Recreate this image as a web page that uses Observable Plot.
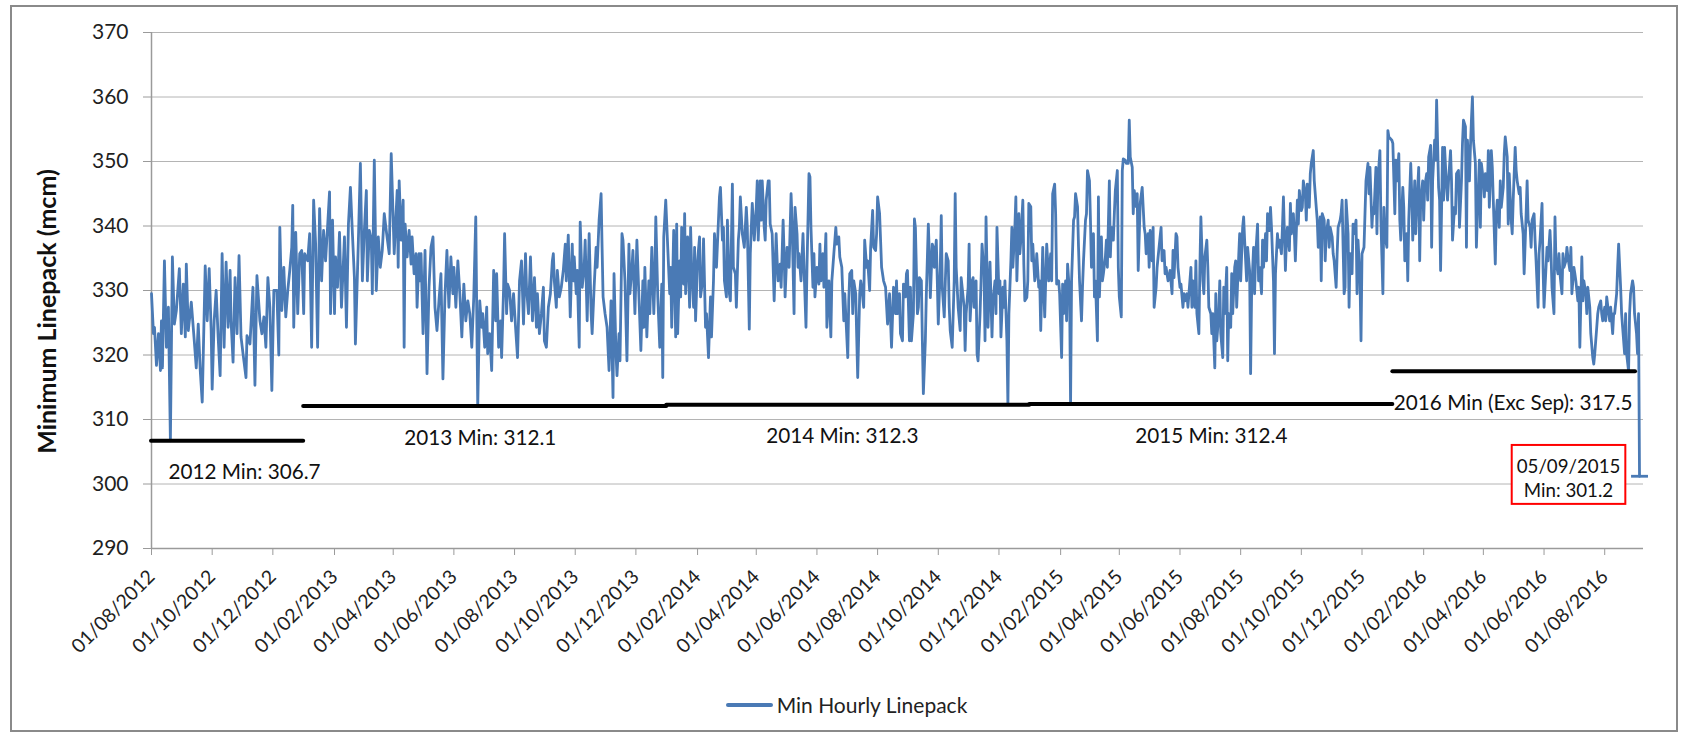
<!DOCTYPE html>
<html><head><meta charset="utf-8">
<script src="https://cdn.jsdelivr.net/npm/d3@7"></script>
<script src="https://cdn.jsdelivr.net/npm/@observablehq/plot@0.6"></script>
<style>
html,body{margin:0;padding:0;background:#fff;}
#wrap{position:relative;width:1681px;height:736px;overflow:hidden;font-family:Lato,sans-serif;background:#fff;}
#chart{position:absolute;left:0;top:0;}
#border{position:absolute;left:10px;top:5px;width:1668px;height:727px;border:2px solid #8a8a8a;box-sizing:border-box;pointer-events:none;}
#legend{position:absolute;left:0;top:692px;width:1681px;height:26px;line-height:26px;display:flex;justify-content:center;align-items:center;font-size:21px;color:#222;padding-left:12px;box-sizing:border-box;}
#legend .sw{display:inline-block;width:47px;height:4px;background:#4a7ab5;margin-right:4px;border-radius:2px;}
</style></head><body>
<div id="wrap"><div id="chart"></div><div id="legend"><span class="sw"></span><span id="legendText"></span></div><div id="border"></div></div>
<script>
// ---- data ----
const seriesName = "Min Hourly Linepack";
const yLabel = "Minimum Linepack (mcm)";
const startDate = "2012-08-01";
const xDomain = ["2012-08-01", "2016-09-09"];
const yDomain = [290, 370];
const yTicks = [290, 300, 310, 320, 330, 340, 350, 360, 370];
const tickDates = ["2012-08-01","2012-10-01","2012-12-01","2013-02-01","2013-04-01","2013-06-01","2013-08-01","2013-10-01","2013-12-01","2014-02-01","2014-04-01","2014-06-01","2014-08-01","2014-10-01","2014-12-01","2015-02-01","2015-04-01","2015-06-01","2015-08-01","2015-10-01","2015-12-01","2016-02-01","2016-04-01","2016-06-01","2016-08-01"];

// days since 2012-08-01
const dayOffset = [
0,2,3,5,7,9,10,11,13,15,17,19,21,23,25,28,30,32,34,35,37,40,43,45,47,49,51,54,56,58,60,61,63,65,67,69,71,73,75,77,79,80,82,84,86,88,90,92,95,96,99,102,104,106,109,111,113,115,117,119,121,123,126,128,129,131,133,135,137,139,141,142,143,145,147,149,151,153,154,157,159,161,163,165,167,169,171,173,175,177,179,180,182,184,185,187,189,191,194,196,198,200,202,204,205,208,210,212,214,216,217,219,221,222,224,226,228,230,232,234,236,239,241,
244,247,248,249,251,253,254,255,257,259,261,262,264,266,267,269,270,271,273,275,277,279,281,283,285,287,289,291,293,295,297,299,301,303,304,306,308,310,312,314,316,318,320,322,324,326,327,328,330,332,333,335,337,338,340,342,344,346,347,349,351,352,354,355,357,358,360,362,364,366,368,370,372,374,376,377,379,381,383,385,387,388,390,392,394,395,397,399,401,403,404,405,407,408,410,412,414,416,417,419,421,423,424,425,427,428,430,431,433,435,436,438,440,442,443,445,447,448,450,452,453,454,456,458,460,462,464,465,467,468,470,471,473,474,476,478,480,481,483,484,486,488,
492,494,495,496,498,500,501,503,505,506,507,509,511,513,514,515,517,519,521,522,523,525,527,528,529,531,532,533,535,536,537,539,541,542,543,545,546,547,549,551,552,554,555,557,558,560,562,563,565,566,568,570,571,572,574,575,576,578,579,581,582,584,585,587,588,590,591,592,594,596,598,599,601,602,604,606,608,609,610,612,613,614,616,617,618,620,621,622,624,626,628,629,630,632,633,635,636,637,639,641,643,644,646,647,649,650,651,653,655,656,658,659,661,662,663,665,666,667,669,671,672,673,675,676,678,679,681,683,684,686,688,689,691,692,694,696,697,700,701,702,704,705,706,708,709,710,712,713,714,716,717,719,720,722,723,725,726,728,729,730,732,733,734,736,738,740,742,
744,746,748,749,750,752,753,755,756,758,759,760,762,763,764,766,767,768,770,771,772,774,775,776,778,779,781,782,783,785,786,787,789,790,791,793,794,795,797,798,799,801,802,803,805,807,808,809,811,813,814,815,817,818,819,821,822,823,825,826,827,829,830,831,833,834,835,837,838,839,841,842,843,845,846,848,849,850,852,853,854,856,857,858,860,861,862,864,865,866,868,869,870,872,873,874,876,877,878,880,881,882,884,885,886,888,889,890,892,893,894,896,897,898,900,901,902,904,905,906,908,909,910,912,913,915,916,917,919,920,921,923,924,925,927,928,929,931,932,933,935,936,937,939,940,941,943,944,945,947,948,949,951,952,953,955,956,957,959,960,961,963,964,965,967,968,969,971,972,973,975,976,977,979,980,982,983,984,986,987,988,990,991,992,994,
996,998,999,1000,1002,1003,1004,1006,1007,1008,1010,1011,1012,1014,1015,1016,1018,1019,1020,1022,1023,1024,1026,1027,1028,1030,1031,1032,1034,1035,1037,1038,1039,1041,1042,1043,1045,1046,1047,1049,1050,1051,1053,1054,1055,1057,1058,1059,1061,1062,1063,1065,1066,1067,1069,1070,1071,1073,1074,1075,1077,1078,1079,1081,1082,1083,1085,1086,1087,1089,1090,1091,1093,1094,1095,1097,1098,1099,1101,1102,1104,1105,1106,1108,1109,1110,1112,1113,1114,1116,1117,1118,1120,1121,1122,1124,1125,1126,1128,1129,1130,1132,1133,1134,1136,1137,1138,1140,1141,1142,1144,1145,1146,1148,1149,1150,1152,1153,1154,1156,1157,1158,1160,1161,1162,1164,1165,1166,1168,1169,1171,1172,1173,1175,1176,1177,1179,1180,1181,1183,1184,1185,1187,1188,1189,1191,1192,1193,1195,1196,1197,1199,1200,1201,1203,1204,1205,1207,1208,1209,1211,1212,1213,1215,1216,1217,1219,1220,1221,1223,1224,1225,1227,1228,1229,1231,1232,1233,1235,1236,1238,1239,1240,1242,1243,1244,
1247,1248,1250,1251,1252,1254,1255,1256,1258,1259,1260,1262,1263,1264,1266,1267,1268,1270,1271,1272,1274,1275,1276,1278,1279,1280,1282,1283,1284,1286,1287,1288,1290,1291,1292,1294,1295,1296,1298,1299,1300,1302,1303,1304,1306,1307,1308,1310,1311,1312,1314,1315,1317,1318,1319,1321,1322,1323,1325,1326,1327,1328,1329,1331,1332,1333,1335,1336,1337,1339,1340,1341,1343,1344,1345,1347,1348,1349,1351,1352,1353,1355,1356,1357,1359,1360,1361,1363,1364,1365,1367,1368,1369,1371,1372,1373,1375,1376,1377,1379,1380,1382,1383,1384,1386,1387,1388,1390,1391,1392,1394,1395,1396,1398,1399,1400,1402,1403,1404,1406,1407,1408,1410,1411,1412,1414,1415,1416,1418,1419,1420,1422,1423,1424,1426,1427,1428,1430,1431,1432,1434,1435,1436,1438,1439,1440,1442,1443,1444,1446,1447,1449,1450,1451,1453,1454,1455,1457,1458,1459,1461,1462,1463,1465,1466,1467,1469,1470,1471,1473,1474,1475,1477,1478,1479,1481,1482,1483,1485,1486,1487,1489,1490,1491,1493,1494,1495,1496
];

const minLinepack = [
329.5,323.3,324.3,318.4,323.3,317.6,325.3,318,334.6,321.2,327.4,306.7,335.2,324.8,326.9,333.4,323.3,331,322.8,334.1,323.8,328.2,322.2,318,324.8,317.6,312.7,333.8,325.3,333.4,323.8,314.7,325.3,330,322.8,316.8,335.7,321.2,334.4,324.3,333.1,325.3,318.9,332,323.3,335.4,322.8,320.2,316.5,323,321.7,330.5,315.3,332.3,325.3,323.3,325.9,321.2,332,327.4,314.5,330,330,320,339.8,326.9,333.6,325.9,330,333.1,336.7,343.2,324.3,339,326.4,335.7,336.2,326.4,335.7,334.6,338.8,321.2,344,337.2,321.2,342.7,331.5,339.3,334.6,339.8,345.3,326.4,340.9,326.4,335.2,330.5,339,327.4,338.3,324.3,340.3,346,338.8,332,321.7,337.8,349.7,331.5,339.3,345.5,331.5,339.3,337.8,329.5,350.2,330,338.3,333.6,336.2,341.9,339.3,335.7,351.2,
335.7,345.5,333.6,347,337.8,344,321.2,340.3,335.2,339.3,334.1,338.3,332.6,335.7,327.4,335.7,331.5,335.7,323.3,336.2,317.1,330.5,336.7,338.3,327.4,323.8,328.4,332.6,316.3,329,336.2,327.4,335.2,329.5,333.6,327.4,334.6,329.5,322.8,331,325.3,328.4,326.4,321.2,329,341.4,326.4,312.1,328.4,324.3,326.4,321.2,327.4,320.2,323.3,317.6,333.1,325.3,332.6,321.2,325.3,319.6,330.5,338.8,326.4,331,330,325.3,329.5,324.3,319.6,331.5,334.6,324.8,335.7,330.5,326.4,335.2,325.3,332,324.3,329.5,323.3,326.4,330.5,322.2,321.2,327.4,329.5,334.6,335.7,331.5,327.4,333.1,329,330.5,333.1,337.2,331.5,338.6,325.9,337.2,331.5,335.2,329.5,333.1,321.2,340.6,330.5,333.6,337.8,325.3,338.8,326.4,323.3,330.5,336.7,333.6,340.9,345,336.7,329,326.4,324.3,317.6,328.4,313.4,332.6,320.2,316.8,323.3,319.1,338.8,337.8,331.5,319.1,337.2,329.5,333.6,336.2,326.4,337.8,
320.7,331.5,324.3,333.6,322.8,331.5,326.4,336.7,326.4,331.5,341.4,329,321.2,331,316.5,338.3,344,336.7,329.5,333.6,324.3,339.3,322.8,340.3,323.3,334.6,329,339.8,331,341.9,329.5,338.3,327.4,339.8,333.6,327.4,336.7,325.3,334.6,338.3,329,331.5,338,324.3,326.4,319.6,329,322.8,331.5,338.8,333.6,340.9,344.5,346,337.8,339.8,331.5,329,340.9,329.5,328.4,346.5,333.6,332.6,327.4,337.8,339.8,344.5,338.8,336.7,342.9,339.8,324,335.7,343.5,337.8,342.9,347,337.8,347,340.9,347,339.8,337.8,344,347,347,340.3,338.8,328.4,338.8,334.6,331.5,334.1,330.5,340.9,335.7,329,336.7,333.6,345,340.9,326.4,342.9,338.8,333.6,335.7,331.5,338.8,333.6,324.3,333.6,348.1,347.6,339.8,330.5,335.7,329,333.6,331,337.2,331.5,335.7,330.5,338.8,324.3,331.5,322.8,331.5,335.7,339.8,337.2,338.3,335.2,333.6,325.3,329.5,319.6,328.4,332.6,333.1,326.4,331.5,329.5,322.8,316.5,329.5,331.5,330.5,327.4,337.8,333.6,334.6,330,336.7,342.4,336.7,336.2,338.8,344.5,341.9,337.8,333.6,331.5,330.5,324.8,329.5,
321.2,330.5,326.4,331.5,326.4,329.5,323.3,322.2,331,329,332.6,333.1,322.2,330.5,322.2,326.4,341.1,339.8,326.4,327.4,332,331.5,322.2,314,322.2,329.5,340.3,335.7,328.9,337.2,336.7,333.6,337.8,331.5,324.8,333.6,341.6,330.5,325.9,331,335.7,334.6,327.4,323.8,321.2,331.5,345,333.6,327.4,323.8,332,330.5,327.4,320.7,326.4,330.5,337.2,325.3,331.5,332,327.4,331.5,320.2,319.1,326.4,331.5,337.2,332.6,322.2,341.4,324.3,329.5,334.4,322.8,328.4,331.5,326.4,339.8,329.5,331.5,322.8,330.5,327.4,331.5,322.2,312.3,326.4,334.6,339.8,333.6,339.8,344.5,331.5,341.9,335.7,337.8,344,334.1,328.4,328.9,331.5,343.5,343,334.6,337.2,331.5,332.6,335.7,330.5,331.5,323.8,336.7,330.5,325.9,337.2,334.6,331.5,335.7,331.5,345,346.5,341.9,331,331.5,329.5,319.6,331,326.4,331.5,325.3,334.1,329.5,312.4,331.5,340.9,341.4,345,343,336.7,331.5,325.3,330.5,334.6,340.9,341.9,348.6,347,340.9,333.6,338.8,329,331.5,322.2,344.5,329,338.3,331.5,332.6,335.2,337.8,333.6,347,335.2,339.8,337.8,341.9,345.5,348.6,333.6,329,325.9,348.6,350.4,350.2,349.7,349.7,356.4,350.7,349.1,341.9,345.5,343,345,333.1,343.5,
346,339.8,338.8,335.7,338.8,333.6,339.3,334.6,339.8,327.4,330.5,333.6,335.2,338.3,339.8,334.6,336.2,332.6,333.6,331.5,332,333.1,329.5,336.2,332,338.8,338.3,333.6,330.5,331,327.4,329.5,328.4,329.5,327.4,329.5,333.6,327.4,331.5,327.4,334.6,326.4,323.3,333.6,341.4,331.5,329.5,335.2,337.8,333.6,327.4,326.4,323.3,326.4,318,329.5,322.2,326.4,331.5,323.3,319.6,330.5,326.4,333.6,319.1,326.4,324.3,332.6,326.4,333.6,334.6,327.4,335.2,338.8,331.5,339.8,341.4,337.8,331.5,336.7,333.1,317.1,329.5,336.7,329.5,335.2,340.3,331.5,333.6,329.5,337.8,333.6,338.8,334.6,341.9,339.3,342.9,339.8,331.5,320.2,332.6,338.8,336.7,337.8,335.7,339.8,344.5,333.1,337.8,339.8,336.2,343.5,338.8,341.9,338.8,334.6,344,340.3,345.5,342.4,342.9,347,345,340.9,346.5,342.9,348.1,349.7,351.7,347,342.9,340.9,336.7,341.4,331.5,341.9,340.9,334.6,338.8,340.9,336.7,339.8,338.3,335.7,334.6,330.5,335.7,339.8,340.9,341.9,344,329.5,330.5,344,338.8,327.4,335.7,332.6,340.3,338.8,340.9,329.5,337.8,331.5,322.2,335.7,336.7,341.9,347,349.7,345,349.1,339.8,342.9,341.9,349.1,338.8,347,351.7,340.9,329.5,342.9,338.8,336.7,354.8,353.8,
353.3,352.8,341.9,350.2,347,351.2,340.9,337.8,346,342.9,334.6,338.8,331.5,340.9,349.7,345,337.8,347,338.8,342.9,349.1,334.6,344,347,340.9,346,348.1,344,350.7,352.5,336.7,347,353.3,350.2,359.5,346,344,333.1,352.2,344,352.2,346,344,347,351.7,347,337.8,342.9,341.9,348.1,348.6,339.8,347,352.8,356.4,355.4,336.7,353.3,347,352.2,356.4,360,353.3,349.7,336.7,341.9,350.2,339.8,349.7,347,344.5,348.1,345.5,351.7,342.9,351.7,349.1,344,334.1,341.9,344,339.8,347,342.9,346,351.2,353.8,350.7,340.3,348.1,340.9,338.8,344,352.2,348.6,347,345,346,341.9,338.8,332.6,341.9,347,340.9,339.8,336.7,340.9,341.9,337.8,334.6,327.4,335.7,337.8,343.5,333.6,327.4,333.6,336.7,334.6,339.3,335.7,330.5,326.4,341.4,334.6,332.6,335.7,332.6,329.5,335.7,333.6,334.6,336.7,335.2,333.1,336.7,329.5,333.6,332.6,331.5,328.4,330.5,321.2,335.2,328.4,331.5,329.5,326.4,330.5,327.4,323.3,319.6,318.6,320.2,324.3,326.4,327.4,328.4,326.4,325.3,327.4,325.3,329,326.4,325.3,327.4,323.3,326.4,326.4,329.5,333.6,337.2,330.5,326.4,324.3,320.2,326.4,320.2,317.5,326.4,329.5,331.5,330.5,326.4,323.3,320.2,326.4,301.2
];

// yearly minimum lines and their labels
const yearLabels = ["2012 Min: 306.7", "2013 Min: 312.1", "2014 Min: 312.3", "2015 Min: 312.4", "2016 Min (Exc Sep): 317.5"];
const yearMinValues = [306.7, 312.1, 312.3, 312.4, 317.5];
const yearMinStart = ["2012-08-01", "2013-01-01", "2014-01-01", "2015-01-01", "2016-01-01"];
const yearMinEnd = ["2013-01-01", "2014-01-01", "2015-01-01", "2016-01-01", "2016-09-01"];
const yearLabelAt = ["2012-08-18", "2013-04-12", "2014-04-11", "2015-04-17", "2016-01-02"];

// callout for the overall minimum
const noteText = "05/09/2015\nMin: 301.2";

// ---- build ----
const parse = s => new Date(s + "T00:00:00Z");
const t0 = parse(startDate);
const series = dayOffset.map((d, i) => ({date: d3.utcDay.offset(t0, d), value: minLinepack[i]}));
const last = series[series.length - 1];
const mins = yearLabels.map((label, i) => ({
  label, value: yearMinValues[i],
  x1: parse(yearMinStart[i]), x2: parse(yearMinEnd[i]), at: parse(yearLabelAt[i])
}));
const note = {date: last.date, value: last.value, text: noteText};

const blue = "#4a7ab5";
const axisGray = "#9a9a9a";

const chart = Plot.plot({
  width: 1681,
  height: 660,
  marginLeft: 151,
  marginRight: 38,
  marginTop: 32,
  marginBottom: 112,
  style: {fontFamily: "Lato, sans-serif", fontSize: "21px", color: "#1f1f1f", background: "transparent", overflow: "visible"},
  x: {type: "utc", domain: xDomain.map(parse)},
  y: {domain: yDomain},
  marks: [
    Plot.gridY(yTicks, {stroke: "#b4b4b4", strokeOpacity: 1, strokeWidth: 1}),
    Plot.axisY(yTicks, {tickSize: 8, tickPadding: 15, stroke: axisGray, fill: "#1f1f1f", fontSize: 21, label: null}),
    Plot.axisX(tickDates.map(parse), {
      tickFormat: d3.utcFormat("%d/%m/%Y"), tickRotate: -45, tickSize: 7, tickPadding: 18,
      textAnchor: "end", lineAnchor: "middle",
      stroke: axisGray, fill: "#1f1f1f", fontSize: 19.5, label: null
    }),
    Plot.ruleX([parse(xDomain[0])], {stroke: axisGray, strokeWidth: 1.5}),
    Plot.ruleY([yDomain[0]], {stroke: axisGray, strokeWidth: 1.5}),
    Plot.line(series, {x: "date", y: "value", stroke: blue, strokeWidth: 2.8, strokeLinejoin: "round"}),
    Plot.ruleY([last], {y: "value", x1: d => d3.utcDay.offset(d.date, -8), x2: d => d3.utcDay.offset(d.date, 9), stroke: blue, strokeWidth: 2.8}),
    Plot.ruleY(mins, {y: "value", x1: "x1", x2: "x2", stroke: "#000", strokeWidth: 4, strokeLinecap: "round"}),
    Plot.text(mins, {x: "at", y: "value", text: "label", dy: 32, textAnchor: "start", fontSize: 20.7, fill: "#111"}),
    Plot.text([note], {x: "date", y: "value", text: "text", dx: -71, dy: 1, fontSize: 18.7, lineHeight: 1.28, fill: "#111", className: "min-note"}),
    Plot.text([yLabel], {frameAnchor: "left", rotate: -90, dx: -104, dy: 21, textAnchor: "middle", fontWeight: "bold", fontSize: 25, fill: "#111"})
  ]
});

document.getElementById("chart").appendChild(chart);
document.getElementById("legendText").textContent = seriesName;

// red box around the callout, sized from the rendered text (drawn in the text's own coordinates)
const g = chart.querySelector("g.min-note");
if (g) {
  const bb = g.getBBox();
  const ns = "http://www.w3.org/2000/svg";
  const r = document.createElementNS(ns, "rect");
  r.setAttribute("x", bb.x - 5);
  r.setAttribute("y", bb.y - 10);
  r.setAttribute("width", bb.width + 10);
  r.setAttribute("height", bb.height + 13);
  r.setAttribute("fill", "#fff");
  r.setAttribute("stroke", "#ff0000");
  r.setAttribute("stroke-width", 2);
  g.insertBefore(r, g.firstChild);
}
</script></body></html>
